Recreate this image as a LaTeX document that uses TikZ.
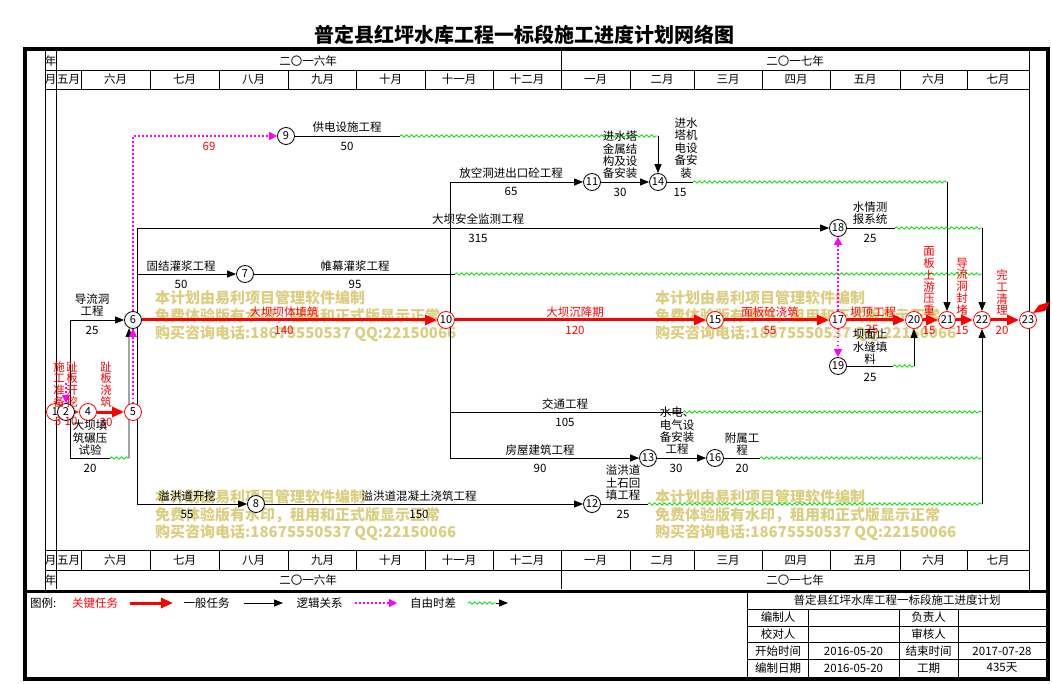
\documentclass[tikz,border=0pt]{standalone}
\usepackage{fontspec}
\setmainfont{Noto Sans CJK SC}
\usetikzlibrary{arrows.meta,decorations.pathmorphing}
\definecolor{wmcol}{RGB}{219,206,128}
\definecolor{wgreen}{RGB}{0,225,0}
\definecolor{mag}{RGB}{255,0,255}
\pgfdeclarelayer{bglayer}
\pgfdeclarelayer{wmlayer}
\pgfdeclarelayer{conn}
\pgfsetlayers{bglayer,wmlayer,conn,main}
\begin{document}
\begin{tikzpicture}[x=1pt,y=-1pt,
  tx/.style={inner sep=0pt, align=center, font=\fontsize{11.5}{12.4}\selectfont},
  rtx/.style={tx, text=red},
  vtx/.style={inner sep=0pt, align=center, font=\fontsize{11.5}{11.8}\selectfont, text=red},
  wm/.style={inner sep=0pt, anchor=west, text=wmcol, font=\bfseries\fontsize{15}{15}\selectfont},
  nd/.style={circle, draw=black, line width=0.8pt, fill=white, minimum size=17pt, inner sep=0pt, font=\fontsize{11}{11}\selectfont},
  ndr/.style={nd, draw=red},
  ln/.style={line width=0.8pt, black},
  arr/.style={ln, -{Triangle[length=9pt,width=7pt]}},
  crit/.style={red, line width=3pt, -{Triangle[length=12pt,width=10pt]}},
  lgc/.style={mag, line width=1.4pt, dash pattern=on 1.6pt off 2.4pt, -{Triangle[length=8pt,width=8pt]}},
  wav/.style={wgreen, line width=0.8pt, decorate, decoration={snake, amplitude=1.2pt, segment length=5pt}},
  grid/.style={line width=0.8pt, black}
]
\useasboundingbox (0,0) rectangle (1052,684);
\begin{pgfonlayer}{bglayer}
\fill[white] (0,0) rectangle (1052,684);
\end{pgfonlayer}

% title
\node[font=\bfseries\fontsize{20}{20}\selectfont, inner sep=0pt] (title) at (524,35) {普定县红坪水库工程一标段施工进度计划网络图};

% header grid
\draw[grid] (45,51) -- (45,591);
\draw[grid] (56,51) -- (56,589);
\draw[grid] (1029,51) -- (1029,591);
\foreach \yy in {70,89,550,570} { \draw[grid] (45,\yy) -- (1029,\yy); }
\foreach \xx in {81.5,150,219,288.5,356.5,425,493,561,630,694,762,830,900,967} {
  \draw[grid] (\xx,70) -- (\xx,89);
  \draw[grid] (\xx,550) -- (\xx,570);
}
\draw[grid] (561,51) -- (561,70);
\draw[grid] (561,570) -- (561,589);

\node[tx] (hy1) at (50.5,61) {年};
\node[tx] (hm1) at (50.5,79.5) {月};
\node[tx] (hm2) at (50.5,560) {月};
\node[tx] (hy2) at (50.5,580) {年};
\node[tx] (y16a) at (308,61) {二〇一六年};
\node[tx] (y17a) at (795,61) {二〇一七年};
\node[tx] (y16b) at (308,580) {二〇一六年};
\node[tx] (y17b) at (795,580) {二〇一七年};
\foreach \mx/\mt [count=\k] in {68.7/五月,115.7/六月,184.5/七月,253.7/八月,322.5/九月,390.7/十月,459/十一月,527/十二月,595.5/一月,662/二月,728/三月,796/四月,865/五月,933.5/六月,998/七月} {
  \node[tx] (mt\k) at (\mx,79.5) {\mt};
  \node[tx] (mb\k) at (\mx,560) {\mt};
}

% frame
\draw[line width=4pt] (25,49) rectangle (1048,679);
\draw[line width=3pt] (25,591) -- (1048,591);

% legend
\node[tx, anchor=west] (lg0) at (30,603) {图例:};
\node[rtx] (lg1) at (95,603) {关键任务};
\coordinate (lga1) at (130,603); \coordinate (lga2) at (173,603);
\draw[crit] (lga1) -- (lga2);
\node[tx] (lg2) at (206.5,603) {一般任务};
\coordinate (lgb1) at (244,603); \coordinate (lgb2) at (283,603);
\draw[arr] (lgb1) -- (lgb2);
\node[tx] (lg3) at (319.5,603) {逻辑关系};
\coordinate (lgc1) at (355,603); \coordinate (lgc2) at (397,603);
\draw[lgc] (lgc1) -- (lgc2);
\node[tx] (lg4) at (433,603) {自由时差};
\coordinate (lgd1) at (468,603); \coordinate (lgd2) at (496,603); \coordinate (lgd3) at (508,603);
\draw[wav] (lgd1) -- (lgd2);
\draw[arr] (lgd2) -- (lgd3);

% title block
\draw[grid] (747.5,591) -- (747.5,679);
\foreach \yy in {609,626.5,642.5,659} { \draw[grid] (747.5,\yy) -- (1046,\yy); }
\foreach \xx in {808,899,958} { \draw[grid] (\xx,609) -- (\xx,679); }
\node[tx] (tb0) at (897,600.5) {普定县红坪水库工程一标段施工进度计划};
\node[tx] (tb1) at (778,617.5) {编制人};
\node[tx] (tb2) at (928.5,617.5) {负责人};
\node[tx] (tb3) at (778,634.5) {校对人};
\node[tx] (tb4) at (928.5,634.5) {审核人};
\node[tx] (tb5) at (778,651) {开始时间};
\node[tx] (tb6) at (853.5,651) {2016-05-20};
\node[tx] (tb7) at (928.5,651) {结束时间};
\node[tx] (tb8) at (1002,651) {2017-07-28};
\node[tx] (tb9) at (778,668) {编制日期};
\node[tx] (tb10) at (853.5,668) {2016-05-20};
\node[tx] (tb11) at (928.5,668) {工期};
\node[tx] (tb12) at (1002,668) {435天};

% watermark
\begin{pgfonlayer}{wmlayer}
\foreach \wx/\wy [count=\k] in {155/298,655/298,155/497,655/497} {
  \node[wm] (wmA\k) at (\wx,\wy) {本计划由易利项目管理软件编制};
  \node[wm] (wmB\k) at (\wx,\wy+18) {免费体验版有水印，租用和正式版显示正常};
  \node[wm] (wmC\k) at (\wx,\wy+36) {购买咨询电话:18675550537 QQ:22150066};
}
\end{pgfonlayer}

% nodes
\node[ndr] (n1) at (55,412) {1};
\node[nd]  (n2) at (66,412) {2};
\node[ndr] (n4) at (88,412) {4};
\node[ndr] (n5) at (133,412) {5};
\node[nd]  (n6) at (133,320) {6};
\node[nd]  (n7) at (245,274) {7};
\node[nd]  (n8) at (256,504) {8};
\node[nd]  (n9) at (286,136) {9};
\node[ndr] (n10) at (446,320) {10};
\node[nd]  (n11) at (592,182) {11};
\node[nd]  (n12) at (592,504) {12};
\node[nd]  (n13) at (648,458) {13};
\node[nd]  (n14) at (658,182) {14};
\node[ndr] (n15) at (715,320) {15};
\node[nd]  (n16) at (715,458) {16};
\node[ndr] (n17) at (838,320) {17};
\node[nd]  (n18) at (838,228) {18};
\node[nd]  (n19) at (838,366) {19};
\node[ndr] (n20) at (914,320) {20};
\node[ndr] (n21) at (947,320) {21};
\node[ndr] (n22) at (982,320) {22};
\node[ndr] (n23) at (1028,320) {23};

% connectors
\begin{pgfonlayer}{conn}
\draw[crit] (n1.center) -- (n4);
\draw[crit] (n4) -- (n5);
\coordinate (c3u) at (70,320); \coordinate (c3d) at (70,458);
\coordinate (c3w) at (110,458); \coordinate (c3e) at (129,458);
\draw[ln] (c3u) -- (c3d);
\draw[arr] (c3u) -- (n6);
\draw[ln] (c3d) -- (c3w);
\draw[wav] (c3w) -- (c3e);
\draw[arr] (c3e) -- (n6.244);
\coordinate (cm2) at (66,383);
\draw[lgc] (cm2) -- (n2.north);
\coordinate (c59) at (133,136);
\draw[lgc] (n5.north) -- (c59) -- (n9);
\draw[lgc] (n5) -- (n6);
% trunk from 6
\coordinate (t6a) at (137,228); \coordinate (t6b) at (137,274); \coordinate (t6c) at (137,504);
\draw[ln] (t6a) -- (t6c);
\draw[arr] (t6a) -- (n18);
\draw[arr] (t6b) -- (n7);
\draw[arr] (t6c) -- (n8);
\draw[crit] (n6) -- (n10);
% 9
\coordinate (c9w) at (400,136); \coordinate (c9e) at (658,136);
\draw[ln] (n9) -- (c9w); \draw[wav] (c9w) -- (c9e); \draw[arr] (c9e) -- (n14);
% 7
\coordinate (c7w) at (455,274); \coordinate (c7e) at (982,274);
\draw[ln] (n7) -- (c7w); \draw[wav] (c7w) -- (c7e);
% 8
\draw[arr] (n8) -- (n12);
% trunk from 10
\coordinate (t10a) at (450,182); \coordinate (t10b) at (450,412); \coordinate (t10c) at (450,458);
\draw[ln] (t10a) -- (t10c);
\draw[arr] (t10a) -- (n11);
\draw[arr] (n11) -- (n14);
\coordinate (c14w) at (693,182); \coordinate (c14e) at (947,182);
\draw[ln] (n14) -- (c14w); \draw[wav] (c14w) -- (c14e); \draw[arr] (c14e) -- (n21);
\coordinate (cjw) at (683,412); \coordinate (cje) at (982,412);
\draw[ln] (t10b) -- (cjw); \draw[wav] (cjw) -- (cje);
\draw[arr] (t10c) -- (n13);
\draw[arr] (n13) -- (n16);
\coordinate (c16w) at (760,458); \coordinate (c16e) at (982,458);
\draw[ln] (n16) -- (c16w); \draw[wav] (c16w) -- (c16e);
\coordinate (c12w) at (648,504); \coordinate (c12e) at (982,504);
\draw[ln] (n12) -- (c12w); \draw[wav] (c12w) -- (c12e); \draw[arr] (c12e) -- (n22);
\draw[crit] (n10) -- (n15);
\draw[crit] (n15) -- (n17);
\draw[lgc] (n17) -- (n18);
\draw[lgc] (n17) -- (n19);
\coordinate (c18w) at (895,228); \coordinate (c18e) at (982,228);
\draw[ln] (n18) -- (c18w); \draw[wav] (c18w) -- (c18e); \draw[arr] (c18e) -- (n22);
\coordinate (c19w) at (893,366); \coordinate (c19e) at (914,366);
\draw[ln] (n19) -- (c19w); \draw[wav] (c19w) -- (c19e); \draw[arr] (c19e) -- (n20);
\draw[crit] (n17) -- (n20);
\draw[crit] (n20) -- (n21);
\draw[crit] (n21) -- (n22);
\draw[crit] (n22) -- (n23);
\end{pgfonlayer}

% flag at end
\fill[red] (1033,313) -- (1039,305) -- (1050,302) -- (1045,311) -- cycle;

% labels
\node[tx] (a1) at (92,305) {导流洞\\工程};
\node[tx] (a2) at (92,330) {25};
\node[vtx] (a3) at (59,384.5) {施\\工\\准\\备};
\node[vtx] (a4) at (72,384.5) {趾\\板\\开\\挖};
\node[rtx] (a5) at (58,421) {5};
\node[rtx] (a6) at (71,421) {10};
\node[vtx] (a7) at (106,384.5) {趾\\板\\浇\\筑};
\node[rtx] (a8) at (106,422) {30};
\node[tx] (a9) at (90,438) {大坝填\\筑碾压\\试验};
\node[tx] (a10) at (90,468) {20};

\node[tx] (b1) at (478,219) {大坝安全监测工程};
\node[tx] (b2) at (478,238) {315};
\node[tx] (b3) at (181,266) {固结灌浆工程};
\node[tx] (b4) at (181,284) {50};
\node[tx] (b5) at (355,266) {帷幕灌浆工程};
\node[tx] (b6) at (355,284) {95};
\node[tx] (b7) at (347,127) {供电设施工程};
\node[tx] (b8) at (347,146) {50};
\node[rtx] (b9) at (209,146) {69};
\node[rtx] (b10) at (284,312) {大坝坝体填筑};
\node[rtx] (b11) at (284,330) {140};
\node[tx] (b12) at (187,496) {溢洪道开挖};
\node[tx] (b13) at (187,514) {55};
\node[tx] (b14) at (419,496) {溢洪道混凝土浇筑工程};
\node[tx] (b15) at (419,514) {150};

\node[tx] (c1) at (511,173) {放空洞进出口砼工程};
\node[tx] (c2) at (511,191) {65};
\node[tx] (c3) at (620,155) {进水塔\\金属结\\构及设\\备安装};
\node[tx] (c4) at (620,192) {30};
\node[tx] (c5) at (686,148) {进水\\塔机\\电设\\备安\\装};
\node[tx] (c6) at (680,192) {15};
\node[rtx] (c7) at (575,312) {大坝沉降期};
\node[rtx] (c8) at (575,330) {120};
\node[tx] (c9) at (565,404) {交通工程};
\node[tx] (c10) at (565,422) {105};
\node[tx] (c11) at (540,450) {房屋建筑工程};
\node[tx] (c12) at (540,468) {90};
\node[tx] (c13) at (677,431) {水电、\\电气设\\备安装\\工程};
\node[tx] (c14) at (676,468) {30};
\node[tx] (c15) at (742,444) {附属工\\程};
\node[tx] (c16) at (742,468) {20};
\node[tx] (c17) at (623,483) {溢洪道\\土石回\\填工程};
\node[tx] (c18) at (623,514) {25};

\node[rtx] (d1) at (770,312) {面板砼浇筑};
\node[rtx] (d2) at (770,330) {55};
\node[tx] (d3) at (870,213) {水情测\\报系统};
\node[tx] (d4) at (870,238) {25};
\node[rtx] (d5) at (873,312) {坝顶工程};
\node[rtx] (d6) at (872,329) {25};
\node[tx] (d7) at (870,347) {坝面止\\水缝填\\料};
\node[tx] (d8) at (870,377) {25};
\node[vtx] (d9) at (929,281) {面\\板\\上\\游\\压\\重};
\node[rtx] (d10) at (929,330) {15};
\node[vtx] (d11) at (962,286.5) {导\\流\\洞\\封\\堵};
\node[rtx] (d12) at (962,330) {15};
\node[vtx] (d13) at (1002,292.5) {完\\工\\清\\理};
\node[rtx] (d14) at (1002,330) {20};
\end{tikzpicture}
\end{document}
